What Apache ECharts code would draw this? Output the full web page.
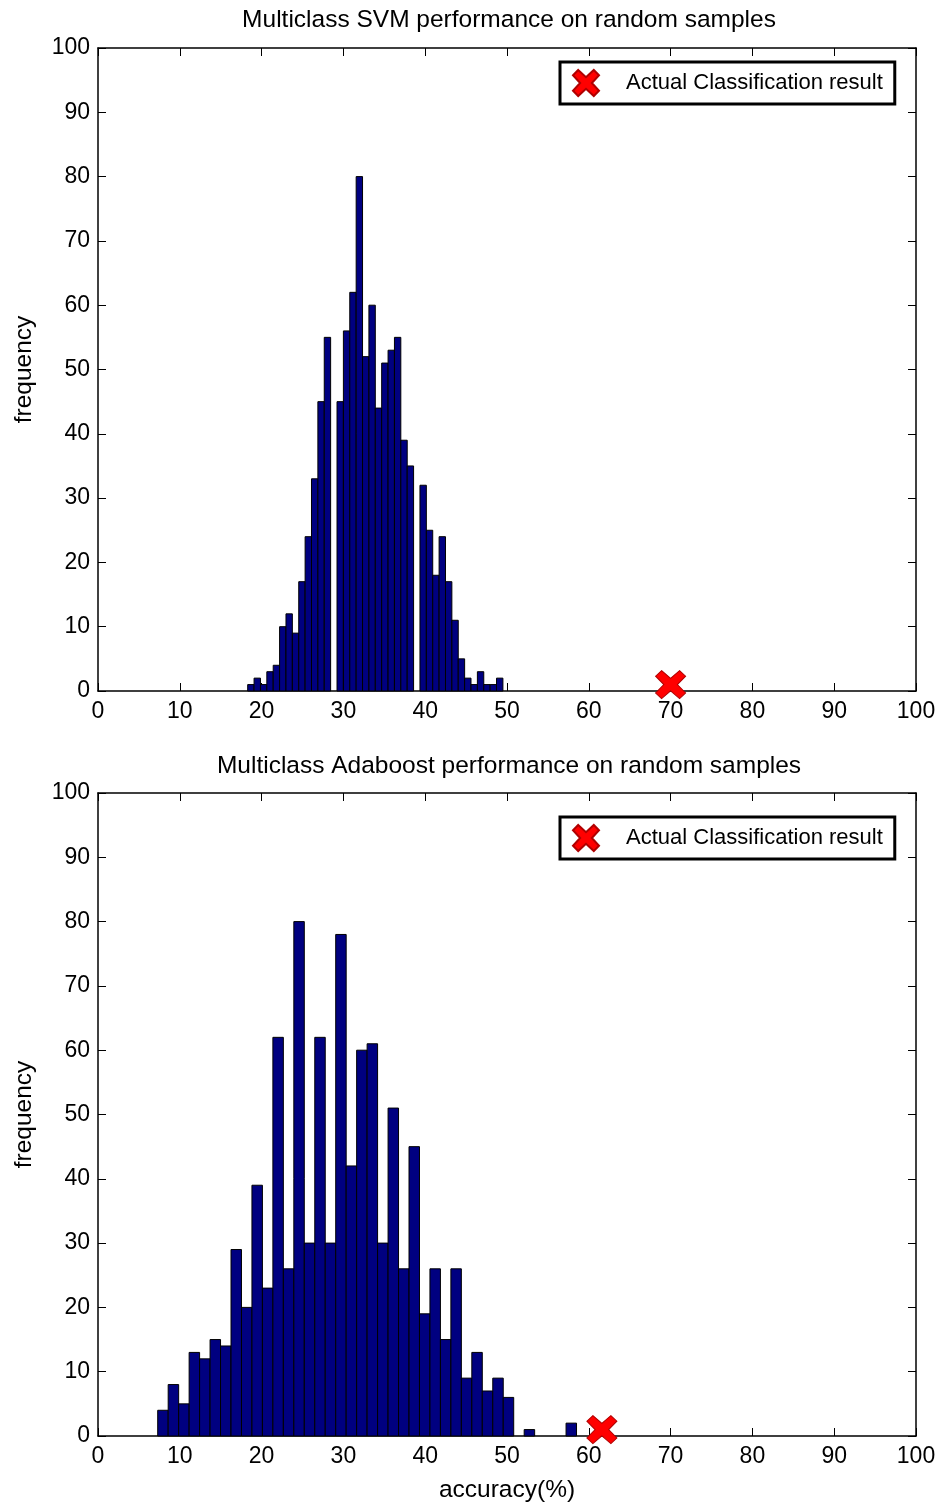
<!DOCTYPE html>
<html>
<head>
<meta charset="utf-8">
<script src="https://cdn.jsdelivr.net/npm/echarts@6/dist/echarts.min.js"></script>
<style>
html,body{margin:0;padding:0;background:#fff;}
#chart{width:949px;height:1507px;}
</style>
</head>
<body>
<div id="chart"></div>
<script>
// ---- data ----
const titles = ['Multiclass SVM performance on random samples', 'Multiclass Adaboost performance on random samples'];
const yAxisName = 'frequency';
const xAxisName = 'accuracy(%)';
const legendName = 'Actual Classification result';
const xTicks = [0, 10, 20, 30, 40, 50, 60, 70, 80, 90, 100];
const yTicks = [0, 10, 20, 30, 40, 50, 60, 70, 80, 90, 100];

// SVM histogram: 40 bins starting at svmBinStart, each svmBinWidth wide
const svmBinStart = 18.3;
const svmBinWidth = 0.78;
const svmCounts = [1, 2, 1, 3, 4, 10, 12, 9, 17, 24, 33, 45, 55, 0,
  45, 56, 62, 80, 52, 60, 44, 51, 53, 55, 39, 35, 0,
  32, 25, 18, 24, 17, 11, 5, 2, 1, 3, 1, 1, 2];
const svmActual = [70, 1];

// Adaboost histogram: 40 bins
const adaBinStart = 7.3;
const adaBinWidth = 1.28;
const adaCounts = [4, 8, 5, 13, 12, 15, 14, 29, 20, 39, 23, 62, 26, 80, 30, 62, 30, 78, 42, 60,
  61, 30, 51, 26, 45, 19, 26, 15, 26, 9, 13, 7, 9, 6, 0, 1, 0, 0, 0, 2];
const adaActual = [61.6, 1];

// ---- build ----
function bins(start, width, counts) {
  return counts.map((c, i) => [start + i * width, start + (i + 1) * width, c]);
}
const FONT = 'Liberation Sans';
const X_PATH = 'path://M4,0 L10,5.5 L16,0 L20,4 L14.5,10 L20,16 L16,20 L10,14.5 L4,20 L0,16 L5.5,10 L0,4 Z';

function renderHist(params, api) {
  const x0 = api.value(0), x1 = api.value(1), v = api.value(2);
  if (!(v > 0)) return null;
  const p0 = api.coord([x0, 0]);
  const p1 = api.coord([x1, v]);
  return {
    type: 'rect',
    shape: { x: p0[0], y: p1[1], width: p1[0] - p0[0], height: p0[1] - p1[1] },
    style: { fill: '#000080', stroke: '#000000', lineWidth: 1 }
  };
}

const grids = [
  { left: 98, top: 48, width: 818, height: 643 },
  { left: 98, top: 793, width: 818, height: 643 }
];

const tickStyle = { show: true, inside: true, length: 8, lineStyle: { color: '#000', width: 1 } };
const lineStyle = { show: true, onZero: false, lineStyle: { color: '#000', width: 1.5 } };
const labelStyle = { color: '#000', fontFamily: FONT, fontSize: 23 };
const nameStyle = { color: '#000', fontFamily: FONT, fontSize: 24.5 };

const xAxis = [], yAxis = [];
[0, 1].forEach(g => {
  xAxis.push({
    gridIndex: g, type: 'value', position: 'bottom', min: xTicks[0], max: xTicks[xTicks.length - 1], interval: xTicks[1] - xTicks[0],
    axisLine: lineStyle, axisTick: tickStyle, splitLine: { show: false },
    axisLabel: Object.assign({ margin: 9 }, labelStyle),
    name: g === 1 ? xAxisName : '', nameLocation: 'middle', nameGap: 42,
    nameTextStyle: nameStyle
  });
  xAxis.push({
    gridIndex: g, type: 'value', position: 'top', min: xTicks[0], max: xTicks[xTicks.length - 1], interval: xTicks[1] - xTicks[0],
    axisLine: lineStyle, axisTick: tickStyle, splitLine: { show: false }, axisLabel: { show: false }
  });
  yAxis.push({
    gridIndex: g, type: 'value', position: 'left', min: yTicks[0], max: yTicks[yTicks.length - 1], interval: yTicks[1] - yTicks[0],
    axisLine: lineStyle, axisTick: tickStyle, splitLine: { show: false },
    axisLabel: Object.assign({ margin: 8 }, labelStyle),
    name: yAxisName, nameLocation: 'middle', nameGap: 61,
    nameTextStyle: nameStyle
  });
  yAxis.push({
    gridIndex: g, type: 'value', position: 'right', min: yTicks[0], max: yTicks[yTicks.length - 1], interval: yTicks[1] - yTicks[0],
    axisLine: lineStyle, axisTick: tickStyle, splitLine: { show: false }, axisLabel: { show: false }
  });
});

function histSeries(g, start, width, counts) {
  return {
    type: 'custom', xAxisIndex: g * 2, yAxisIndex: g * 2,
    renderItem: renderHist, encode: { x: [0, 1], y: 2 },
    data: bins(start, width, counts), clip: false, silent: true
  };
}
function actualSeries(g, pt) {
  return {
    type: 'scatter', name: legendName, xAxisIndex: g * 2, yAxisIndex: g * 2,
    symbol: X_PATH, symbolSize: [30, 28], clip: false, z: 5,
    itemStyle: { color: '#ff0000', borderColor: '#b00000', borderWidth: 1, opacity: 1 },
    data: [pt]
  };
}

function legend(top) {
  return {
    left: 560, top: top, orient: 'horizontal',
    data: [{ name: legendName, icon: X_PATH }],
    itemWidth: 28, itemHeight: 26, itemGap: 0,
    padding: [7, 12, 7, 12],
    borderColor: '#000', borderWidth: 3, backgroundColor: '#fff',
    selectedMode: false,
    textStyle: { color: '#000', fontFamily: FONT, fontSize: 22, padding: [0, 0, 0, 21] }
  };
}

const titleStyle = { color: '#000', fontFamily: FONT, fontSize: 24.5, fontWeight: 'normal' };
const option = {
  backgroundColor: '#ffffff',
  animation: false,
  title: [
    { text: titles[0], left: 504, top: 3, textAlign: 'center', textStyle: titleStyle },
    { text: titles[1], left: 504, top: 749, textAlign: 'center', textStyle: titleStyle }
  ],
  grid: grids,
  xAxis: xAxis,
  yAxis: yAxis,
  legend: [legend(62), legend(817)],
  series: [
    histSeries(0, svmBinStart, svmBinWidth, svmCounts),
    actualSeries(0, svmActual),
    histSeries(1, adaBinStart, adaBinWidth, adaCounts),
    actualSeries(1, adaActual)
  ]
};

const chart = echarts.init(document.getElementById('chart'), null, { renderer: 'canvas' });
chart.setOption(option);
</script>
</body>
</html>
